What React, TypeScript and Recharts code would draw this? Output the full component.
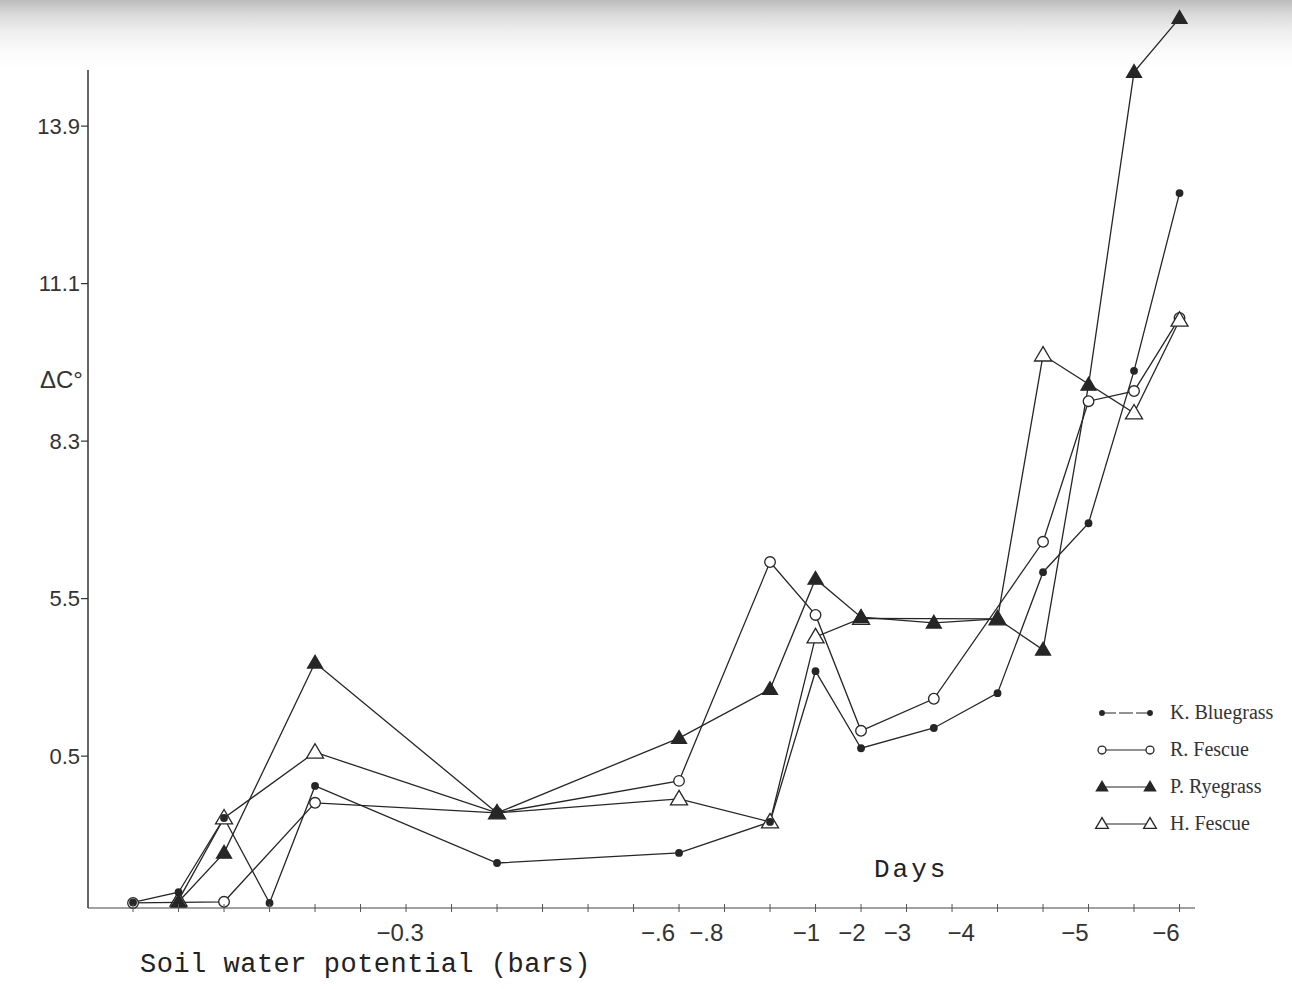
import React from 'react';
import { LineChart, Line, XAxis, YAxis, ReferenceLine, Legend } from 'recharts';

// days after the start of drying
const days = [0, 1, 2, 3, 4, 8, 12, 14, 15, 16, 17.6, 19, 20, 21, 22, 23];

// canopy - air temperature difference, ΔC°
const kBluegrass = [0.1, 0.28, 1.6, 0.09, 2.17, 0.8, 0.98, 1.53, 4.21, 2.84, 3.2, 3.82, 5.97, 6.84, 9.55, 12.71];
const rFescue = [0.09, null, 0.11, null, 1.87, 1.69, 2.26, 6.15, 5.21, 3.15, 3.72, null, 6.51, 9.01, 9.19, 10.49];
const pRyegrass = [null, 0.11, 0.98, null, 4.36, 1.69, 3.02, 3.89, 5.85, 5.17, 5.07, 5.14, 4.59, 9.3, 14.86, 15.82];
const hFescue = [null, 0.14, 1.6, null, 2.77, 1.69, 1.94, 1.53, 4.82, 5.15, null, 5.14, 9.83, null, 8.8, 10.45];

// the printed axis labels (the lowest one is printed as 0.5)
const yTicks = [2.7, 5.5, 8.3, 11.1, 13.9];
const yTickLabels = ['0.5', '5.5', '8.3', '11.1', '13.9'];
const xTicks = [5.87, 11.54, 12.6, 14.8, 15.8, 16.8, 18.2, 20.7, 22.7];
const xTickLabels = ['−0.3', '−.6', '−.8', '−1', '−2', '−3', '−4', '−5', '−6'];
const dayTicks = Array.from({ length: 24 }, (_, i) => i);

const data = days.map((d, i) => ({
  day: d,
  kb: kBluegrass[i],
  rf: rFescue[i],
  pr: pRyegrass[i],
  hf: hFescue[i],
}));

const INK = '#262626';

type Shape = 'dot' | 'circle' | 'tri' | 'openTri';

function Marker({ cx, cy, shape, k = 1 }: { cx: number; cy: number; shape: Shape; k?: number }) {
  if (shape === 'dot') return <circle cx={cx} cy={cy} r={3.9 * k} fill={INK} />;
  if (shape === 'circle') return <circle cx={cx} cy={cy} r={5.3 * k} fill="#fff" stroke={INK} strokeWidth={1.3} />;
  const s = (shape === 'tri' ? 7.5 : 8.5) * k;
  const pts = `${cx},${cy - s} ${cx - s},${cy + s * 0.7} ${cx + s},${cy + s * 0.7}`;
  return <polygon points={pts} fill={shape === 'tri' ? INK : '#fff'} stroke={INK} strokeWidth={1.3} />;
}

const renderDot = (shape: Shape) => (props: any) => {
  const { cx, cy, index, value } = props;
  const key = `${shape}-${index}`;
  if (value == null || cx == null || cy == null || isNaN(cy)) return <g key={key} />;
  return (
    <g key={key}>
      <Marker cx={cx} cy={cy} shape={shape} />
    </g>
  );
};

// legend order
const series: { key: string; name: string; shape: Shape }[] = [
  { key: 'kb', name: 'K. Bluegrass', shape: 'dot' },
  { key: 'rf', name: 'R. Fescue', shape: 'circle' },
  { key: 'pr', name: 'P. Ryegrass', shape: 'tri' },
  { key: 'hf', name: 'H. Fescue', shape: 'openTri' },
];
// drawing order (filled marks on top)
const drawOrder = ['rf', 'hf', 'kb', 'pr'];

function XTick({ x, y, payload }: any) {
  const v = payload.value;
  const i = xTicks.indexOf(v);
  if (i >= 0) {
    return (
      <text x={x} y={y + 33} textAnchor="middle" fontSize={24} fill="#333" fontFamily="'Liberation Sans', Arial, sans-serif">
        {xTickLabels[i]}
      </text>
    );
  }
  return <line x1={x} x2={x} y1={y - 4} y2={y + 4} stroke="#555" strokeWidth={1} />;
}

function LegendBox() {
  return (
    <div style={{ fontFamily: "'Liberation Serif', 'Times New Roman', serif", fontSize: 20, color: '#333' }}>
      {series.map((s) => (
        <div key={s.key} style={{ display: 'flex', alignItems: 'center', height: 37 }}>
          <svg width={70} height={24} style={{ overflow: 'visible' }}>
            <line x1={10} x2={58} y1={12} y2={12} stroke={INK} strokeWidth={1.1} strokeDasharray={s.shape === 'dot' ? '14 3' : undefined} />
            <Marker cx={10} cy={12} shape={s.shape} k={0.75} />
            <Marker cx={58} cy={12} shape={s.shape} k={0.75} />
          </svg>
          <span style={{ marginLeft: 8 }}>{s.name}</span>
        </div>
      ))}
    </div>
  );
}

export default function App() {
  return (
    <div
      style={{
        position: 'absolute',
        left: 0,
        top: 0,
        width: 1292,
        height: 989,
        background: 'linear-gradient(to bottom, #bcbcbc 0px, #d9d9d9 14px, #efefef 32px, #fbfbfb 52px, #ffffff 70px)',
        overflow: 'hidden',
      }}
    >
      <LineChart width={1292} height={989} data={data} margin={{ top: 8, right: 97, left: 0, bottom: 41 }}>
        <XAxis
          dataKey="day"
          type="number"
          domain={[-0.99, 23.34]}
          ticks={[...dayTicks, ...xTicks].sort((a, b) => a - b)}
          interval={0}
          tick={<XTick />}
          tickLine={false}
          tickSize={0}
          tickMargin={0}
          height={40}
          axisLine={{ stroke: '#444', strokeWidth: 1.2 }}
        />
        <YAxis
          type="number"
          domain={[0, 16]}
          ticks={yTicks}
          interval={0}
          tickFormatter={(v: number) => yTickLabels[yTicks.indexOf(v)]}
          width={88}
          axisLine={false}
          tickLine={{ stroke: '#333', strokeWidth: 1.2 }}
          tickSize={7}
          tickMargin={1}
          tick={{ fontSize: 22, fill: '#333', fontFamily: "'Liberation Sans', Arial, sans-serif" }}
        />
        <ReferenceLine
          segment={[
            { x: -0.99, y: 0 },
            { x: -0.99, y: 14.9 },
          ]}
          stroke="#333"
          strokeWidth={1.5}
        />
        {drawOrder.map((key) => {
          const s = series.find((e) => e.key === key)!;
          return (
            <Line
              key={s.key}
              type="linear"
              dataKey={s.key}
              name={s.name}
              stroke={INK}
              strokeWidth={1.3}
              dot={renderDot(s.shape)}
              activeDot={false}
              connectNulls
              isAnimationActive={false}
            />
          );
        })}
        <Legend
          layout="vertical"
          align="center"
          verticalAlign="middle"
          content={() => <LegendBox />}
          wrapperStyle={{ left: 1092, top: 694, width: 200 }}
        />
      </LineChart>
      <div
        style={{
          position: 'absolute',
          left: 40,
          top: 366,
          fontFamily: "'Liberation Sans', Arial, sans-serif",
          fontSize: 24,
          color: '#333',
        }}
      >
        ΔC°
      </div>
      <div
        style={{
          position: 'absolute',
          left: 874,
          top: 855,
          fontFamily: "'Liberation Mono', 'DejaVu Sans Mono', monospace",
          fontSize: 26,
          letterSpacing: 3,
          color: '#222',
        }}
      >
        Days
      </div>
      <div
        style={{
          position: 'absolute',
          left: 140,
          top: 950,
          fontFamily: "'Liberation Mono', 'DejaVu Sans Mono', monospace",
          fontSize: 27,
          letterSpacing: 0.5,
          color: '#222',
        }}
      >
        Soil water potential (bars)
      </div>
    </div>
  );
}
